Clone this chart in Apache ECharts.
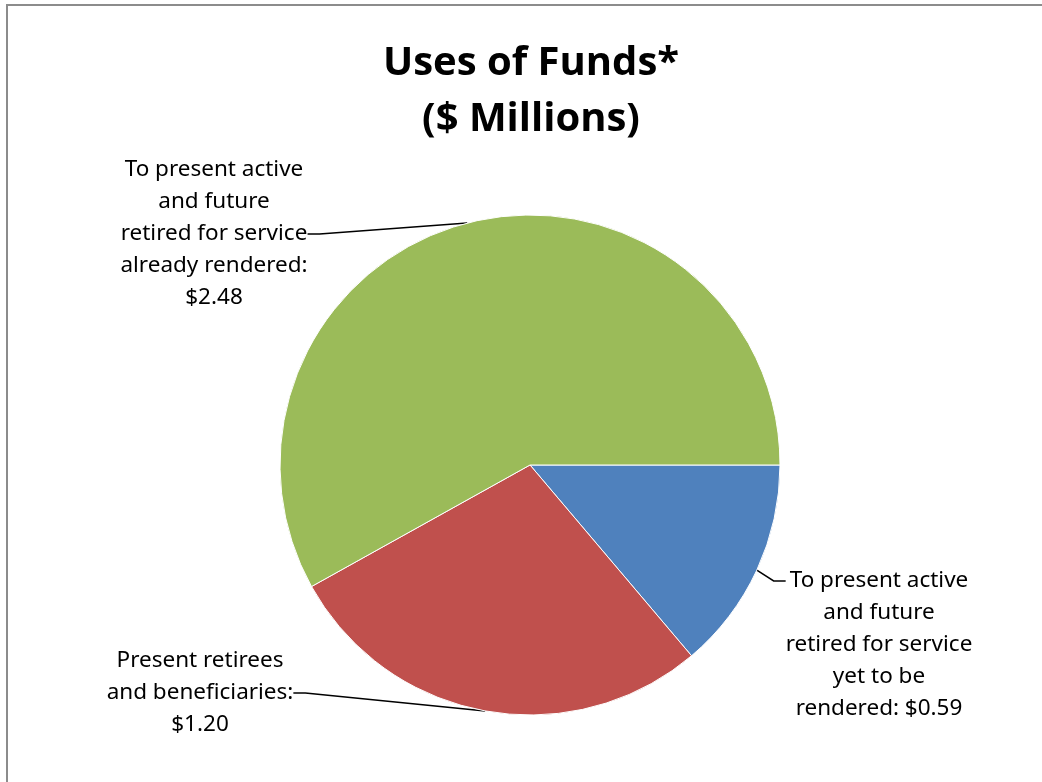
<!DOCTYPE html>
<html>
<head>
<meta charset="utf-8">
<script src="https://cdn.jsdelivr.net/npm/echarts@6/dist/echarts.min.js"></script>
<style>
html,body{margin:0;padding:0;background:#fff;}
#chart{width:1042px;height:782px;}
</style>
</head>
<body>
<div id="chart"></div>
<script>
const categories = [
  'To present active and future retired for service yet to be rendered',
  'Present retirees and beneficiaries',
  'To present active and future retired for service already rendered'
];
const values = [0.59, 1.20, 2.48];
const labelTexts = [
  'To present active\nand future\nretired for service\nyet to be\nrendered: $0.59',
  'Present retirees\nand beneficiaries:\n$1.20',
  'To present active\nand future\nretired for service\nalready rendered:\n$2.48'
];
const colors = ['#4F81BD', '#C0504D', '#9BBB59'];
const labelPos = [
  {x: 879, y: 581},
  {x: 200, y: 693},
  {x: 214, y: 234}
];
// blank lines prepended so the connector meets the label's first line
const labelLead = ['\n\n\n\n', '', ''];

const chart = echarts.init(document.getElementById('chart'), null, {renderer: 'canvas'});
chart.setOption({
  animation: false,
  backgroundColor: '#ffffff',
  graphic: [{
    type: 'rect',
    shape: {x: 7, y: 5, width: 1200, height: 1000},
    style: {fill: 'none', stroke: '#8c8c8c', lineWidth: 2},
    silent: true
  }],
  title: {
    text: 'Uses of Funds*\n($ Millions)',
    left: 526,
    textAlign: 'center',
    top: 31,
    textStyle: {
      fontFamily: 'Open Sans',
      fontWeight: 'bold',
      fontSize: 40,
      lineHeight: 56,
      color: '#000'
    }
  },
  series: [{
    type: 'pie',
    center: [530, 465],
    radius: [0, 250],
    startAngle: 0,
    clockwise: true,
    data: categories.map((c, i) => ({
      name: c,
      value: values[i],
      itemStyle: {color: colors[i]},
      label: {formatter: labelLead[i] + labelTexts[i]}
    })),
    itemStyle: {borderColor: '#fff', borderWidth: 1},
    label: {
      show: true,
      position: 'outside',
      fontFamily: 'Noto Sans',
      fontSize: 22.5,
      lineHeight: 32,
      color: '#000',
      align: 'center'
    },
    labelLine: {
      show: true,
      length: 15,
      length2: 12,
      lineStyle: {color: '#000', width: 1.5}
    },
    labelLayout: function (p) {
      const lp = labelPos[p.dataIndex];
      return {x: lp.x, y: lp.y, align: 'center', verticalAlign: 'middle'};
    }
  }]
});
</script>
</body>
</html>
